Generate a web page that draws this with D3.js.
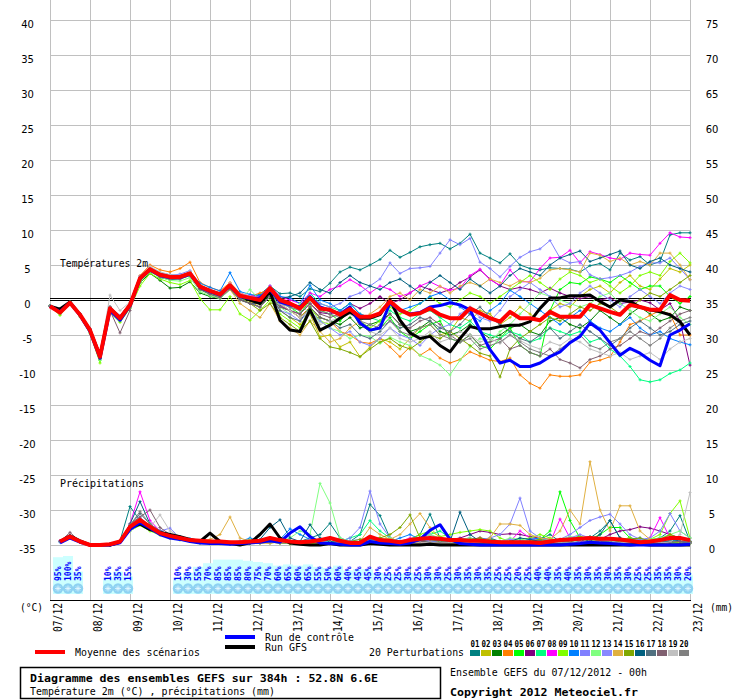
<!DOCTYPE html>
<html><head><meta charset="utf-8">
<script src="https://cdn.jsdelivr.net/npm/d3@7"></script>
<style>body{margin:0;background:#fff}svg{display:block}</style>
</head><body>
<svg id="c" width="740" height="700"></svg>
<script>
// ---------- data ----------
const dateLabels = ["07/12","08/12","09/12","10/12","11/12","12/12","13/12","14/12","15/12","16/12","17/12","18/12","19/12","20/12","21/12","22/12","23/12"];
const leftTicks = [40,35,30,25,20,15,10,5,0,-5,-10,-15,-20,-25,-30,-35];
const rightTicks = [75,70,65,60,55,50,45,40,35,30,25,20,15,10,5,0];
const pertNames = ["01","02","03","04","05","06","07","08","09","10","11","12","13","14","15","16","17","18","19","20"];
const pertColors = ["#008080","#c0c000","#008000","#ff8000","#00ff00","#800080","#00ff80","#ff00ff","#80ff00","#0080ff","#8080ff","#80ff80","#8888ff","#e0b040","#80a800","#006080","#507080","#806070","#c0c0c0","#808080"];
// snow probability (%) for each 6h period, null = none
const snowPct = [95,100,35,null,null,10,35,15,null,null,null,null,
  10,30,55,70,85,85,85,80,75,70,60,65,60,65,55,50,60,40,45,45,
  30,25,25,30,25,30,30,25,30,35,30,35,25,25,20,25,40,40,35,40,35,30,35,30,35,30,25,25,35,35,30,20];

// temperature 2m (°C), 6-hourly, 65 values
const tempMean = [-0.9,-1.8,-0.4,-2.1, -4.3,-8.1,-1.2,-2.6, -0.7,3.1,4.4,3.6, 3.3,3.3,3.8,1.9, 1.3,0.8,2.1,0.6, 0.3,0.0,1.7,0.0, -0.5,-1.2,0.3,-1.2, -1.4,-2.1,-1.3,-2.4, -2.4,-1.9,-0.2,-1.4, -2.1,-1.9,-1.2,-2.1, -2.6,-2.6,-1.2,-1.9, -2.6,-3.1,-1.7,-2.6, -2.6,-2.9,-1.7,-2.4, -2.4,-2.4,-0.7,-1.2, -1.7,-2.1,-0.7,-1.0, -1.4,-1.4,0.7,0.0, -0.1];
const tempControl = [-0.9,-1.7,-0.4,-2.2, -4.5,-8.3,-1.5,-2.9, -0.8,3.0,4.3,3.5, 3.2,3.2,3.7,1.8, 1.2,0.7,2.0,0.5, 0.2,0.3,1.5,-0.3, -0.7,-1.0,0.5,-1.0, -1.5,-2.0,-1.0,-3.3, -4.3,-4.0,-0.4,-1.5, -2.0,-1.8,-1.0,-0.8, -0.4,-0.7,-1.4,-4.3, -7.1,-9.0,-8.6,-9.5, -9.5,-9.0,-8.1,-7.4, -6.1,-5.2,-3.3,-4.3, -6.1,-7.9,-6.9,-7.6, -8.6,-9.4,-5.0,-4.3, -3.4];
const tempGFS = [-0.9,-1.3,-0.3,-2.1, -4.3,-8.0,-1.2,-2.6, -0.7,3.1,4.4,3.6, 3.3,3.3,3.8,1.9, 1.3,0.8,2.1,0.6, 0.0,-0.5,1.2,-2.9, -4.3,-4.5,-1.4,-4.3, -3.6,-2.6,-1.7,-2.6, -2.6,-2.1,0.0,-2.9, -4.7,-5.5,-5.2,-6.5, -7.4,-5.5,-3.8,-4.1, -4.1,-3.8,-3.6,-3.6, -3.1,-1.2,0.3,0.3, 0.6,0.6,0.7,-0.2, -1.0,0.0,-0.2,-1.0, -1.4,-1.7,-2.1,-3.1, -5.0];
const tempP01 = [-0.9,-2.0,-0.4,-2.3, -4.6,-8.4,-1.4,-2.9, -0.9,2.8,4.2,3.2, 2.9,3.0,3.5,1.6, 1.0,0.6,1.8,0.4, 0.5,0.8,2.0,0.9, 1.0,0.5,1.6,1.2, 2.4,4.0,4.7,4.3, 5.0,5.8,7.1,6.1, 6.8,7.6,7.9,8.1, 7.3,8.1,9.4,6.7, 6.0,5.3,6.6,5.0, 4.5,4.3,4.6,4.5, 4.4,4.0,4.9,5.2, 4.3,6.7,5.7,6.2, 5.0,5.5,9.3,9.6, 9.6];
const tempP02 = [-0.9,-1.9,-0.3,-2.2, -4.4,-8.0,-1.0,-2.4, -0.6,3.0,4.6,3.8, 3.4,3.2,4.0,2.2, 1.5,1.0,2.4,0.8, -0.2,-1.0,0.5,-1.5, -2.5,-3.5,-2.0,-5.3, -5.0,-6.7,-6.0,-8.1, -6.7,-5.5,-6.0,-7.0, -5.5,-4.0,-3.5,-5.0, -4.5,-2.5,-3.0,-1.5, -2.0,-3.5,-2.5,-1.0, -2.0,-3.0,-1.5,-0.5, -1.0,0.5,1.5,2.0, 1.0,2.5,3.5,2.0, 1.5,3.0,4.5,4.0, 5.0];
const tempP03 = [-0.8,-1.7,-0.4,-2.0, -4.2,-8.3,-1.3,-2.7, -0.8,2.5,3.8,2.8, 1.7,1.8,2.6,1.0, 0.5,0.2,1.5,0.0, -0.5,-1.0,0.8,-1.0, -1.5,-2.5,-1.0,-2.5, -3.0,-3.5,-2.5,-4.0, -3.5,-3.0,-2.0,-3.5, -4.5,-4.0,-3.0,-4.5, -5.0,-4.5,-3.5,-4.5, -5.5,-5.0,-4.0,-3.5, -4.5,-5.0,-3.0,-2.5, -3.5,-4.0,-3.0,-1.5, -2.5,-3.5,-2.0,-1.0, -2.0,-3.0,-2.5,-1.0, -1.5];
const tempP04 = [-0.9,-1.8,-0.5,-2.2, -4.3,-8.0,-1.0,-2.3, -0.4,3.5,5.0,4.3, 4.0,4.5,5.4,2.5, 1.8,1.3,2.5,1.0, 0.5,1.0,1.5,-0.5, -1.5,-2.5,-1.0,-2.5, -3.0,-4.5,-5.0,-6.0, -6.2,-5.5,-6.7,-8.1, -6.7,-7.9,-7.0,-8.3, -9.0,-8.5,-7.4,-8.0, -8.6,-8.8,-8.3,-10.7, -11.9,-12.6,-10.7,-10.9, -10.9,-10.7,-8.9,-8.6, -8.1,-6.0,-3.5,-3.0, -2.2,-1.5,-2.0,-5.0, -5.0];
const tempP05 = [-0.9,-1.8,-0.3,-2.0, -4.5,-8.6,-1.5,-3.0, -1.0,2.7,4.3,3.5, 3.1,3.4,3.6,1.5, 0.8,0.5,2.0,0.2, 0.0,-0.5,1.2,-0.5, -1.0,-2.0,0.0,-1.5, -2.0,-3.0,-1.5,-3.5, -4.5,-4.0,-2.5,-4.5, -5.5,-4.5,-3.5,-3.0, -5.5,-6.0,-5.0,-6.5, -7.0,-5.5,-4.0,-6.5, -7.5,-8.0,-1.5,1.5, 2.5,2.3,3.3,3.0, 2.5,3.5,2.5,1.5, 2.0,2.0,0.5,-0.5, 0.5];
const tempP06 = [-0.9,-1.8,-0.4,-2.1, -4.4,-8.2,-1.2,-2.8, -0.8,3.0,4.3,3.4, 3.2,3.2,3.6,1.8, 1.2,0.8,2.0,0.5, 0.2,-0.3,1.0,-0.8, -1.5,-2.0,-0.5,-1.8, -2.0,-1.5,-0.5,-1.2, -0.5,0.5,-0.5,0.0, 1.0,2.0,1.5,1.0, 1.5,2.5,3.3,4.3, 3.0,2.0,1.5,1.8, 1.5,1.0,1.7,1.0, 0.5,0.2,0.5,0.0, 0.3,-0.5,-0.3,0.0, -0.4,-1.4,-0.5,-3.0, -9.3];
const tempP07 = [-0.9,-1.7,-0.4,-2.1, -4.3,-8.3,-1.3,-2.6, -0.7,3.2,4.6,3.7, 3.5,3.4,4.0,2.0, 1.4,0.9,2.2,0.7, 0.4,0.2,1.5,0.3, -0.5,-1.0,1.0,-0.5, -1.0,-1.5,-0.5,-2.0, -2.5,-3.0,-1.5,-2.5, -3.0,-2.0,-1.5,-2.5, -3.5,-4.0,-3.0,-4.5, -5.0,-5.5,-4.5,-5.0, -6.0,-5.5,-4.0,-4.5, -5.0,-4.5,-6.0,-5.5, -7.0,-8.0,-9.5,-11.4, -11.7,-11.4,-10.5,-10.0, -9.0];
const tempP08 = [-0.9,-1.8,-0.4,-2.0, -4.2,-8.0,-1.1,-2.5, -0.6,3.2,4.5,3.7, 3.4,3.5,3.9,2.0, 1.5,1.0,2.3,0.9, 0.6,0.5,2.0,0.5, 0.0,-0.5,1.0,0.5, 1.5,2.0,2.9,2.1, 1.0,2.0,1.5,0.5, 1.0,2.0,2.6,1.9, 1.4,1.7,3.5,4.4, 2.9,2.1,4.3,2.6, 2.6,4.5,6.0,6.1, 7.1,5.3,6.9,6.5, 6.0,5.8,6.7,6.5, 6.4,8.1,9.6,9.0, 8.9];
const tempP09 = [-0.9,-2.2,-0.5,-2.4, -4.8,-9.0,-1.8,-3.2, -1.2,2.0,3.8,3.0, 2.5,2.2,2.8,0.2, -1.4,-1.4,0.5,-2.0, -2.9,-1.5,0.0,-2.0, -3.0,-4.0,-1.0,-3.0, -3.5,-2.5,-1.5,-3.0, -4.0,-3.0,-1.0,-2.0, -1.5,-0.5,0.5,-0.5, -1.0,0.0,1.0,0.5, -0.5,0.5,1.5,2.5, 3.5,2.5,1.5,3.0, 4.0,3.5,2.5,3.0, 2.0,1.0,2.0,3.5, 4.0,3.5,5.5,6.7, 5.3];
const tempP10 = [-0.9,-1.8,-0.4,-2.1, -4.3,-8.1,-1.0,-2.4, -0.6,3.3,4.6,3.9, 3.6,3.5,4.0,2.4, 1.8,1.3,3.9,1.2, 0.8,0.6,1.8,0.5, 0.3,-0.5,2.1,0.0, -0.5,-1.5,-0.5,-2.0, -2.5,-2.0,-0.5,-1.5, -1.0,-0.5,0.5,1.0, 0.0,-1.0,-2.0,-3.0, -1.5,-0.5,1.4,0.5, -0.5,-1.5,-2.5,-3.5, -2.5,-1.5,-3.0,-4.0, -4.5,-3.5,-2.5,-4.0, -5.0,-4.5,-5.5,-6.0, -6.4];
const tempP11 = [-0.9,-1.8,-0.3,-2.0, -4.1,-7.8,-1.0,-2.2, -0.5,3.4,4.7,3.9, 3.5,3.7,4.2,2.1, 1.5,1.0,2.2,0.7, 0.5,0.0,1.5,-0.5, -1.0,-1.5,0.5,-0.5, -1.0,-0.5,0.5,1.0, 2.0,3.0,5.3,3.8, 4.5,4.6,4.8,6.7, 8.6,7.9,8.8,5.4, 4.5,3.3,4.8,6.1, 6.9,7.3,8.5,6.0, 5.3,5.5,3.6,3.0, 3.2,3.5,4.0,4.8, 5.3,5.3,6.0,4.5, 2.9];
const tempP12 = [-0.9,-1.9,-0.4,-2.2, -4.5,-8.6,-1.4,-2.9, -1.0,2.6,4.0,3.3, 2.8,2.7,3.2,1.2, 0.6,0.2,1.5,0.0, 1.5,0.0,1.0,-1.0, -2.0,-0.5,-2.0,-3.0, -4.0,-4.5,-5.5,-5.0, -5.2,-6.2,-5.3,-6.0, -6.5,-7.9,-8.5,-9.3, -10.7,-8.6,-6.7,-5.5, -6.0,-4.5,-3.5,-2.0, -0.5,1.0,0.5,0.0, -0.5,-1.0,-0.5,0.5, 1.0,-0.5,-1.5,-2.5, -3.0,-2.0,-1.0,-2.5, -3.5];
const tempP13 = [-0.9,-1.8,-0.4,-2.1, -4.4,-8.2,-1.3,-2.7, -0.8,3.0,4.4,3.5, 3.2,3.1,3.7,1.7, 1.0,0.6,1.9,0.3, -0.5,-1.0,0.5,-1.5, -2.0,-3.0,-1.5,-3.0, -4.0,-5.0,-4.5,-6.0, -6.5,-5.5,-4.0,-5.0, -5.5,-6.5,-5.0,-4.0, -3.5,-2.0,-1.0,-2.5, -3.0,-1.5,0.5,1.5, 2.5,1.5,0.5,-1.0, -0.5,1.0,2.0,1.0, 0.0,-1.0,0.5,1.5, 0.5,-0.5,1.0,2.0, 1.5];
const tempP14 = [-0.9,-1.8,-0.4,-2.1, -4.3,-8.1,-1.1,-2.5, -0.6,3.2,4.5,3.7, 3.4,3.4,3.9,2.0, 1.2,0.4,1.5,-0.5, -1.5,-2.5,-0.5,-3.0, -4.0,-5.0,-3.0,-4.5, -6.0,-5.5,-4.0,-3.0, -2.0,-1.0,0.5,1.0, 0.0,1.5,1.0,2.0, 1.0,2.0,2.5,2.0, 3.0,2.5,2.0,2.8, 2.5,3.1,4.3,4.5, 4.3,4.0,6.7,6.4, 5.5,6.0,5.0,5.5, 5.0,6.7,6.7,5.0, 2.9];
const tempP15 = [-0.9,-1.8,-0.4,-2.1, -4.2,-8.0,-1.2,-2.6, -0.7,3.1,4.4,3.6, 3.3,3.2,3.7,1.8, 1.2,0.7,1.9,0.4, -0.5,-1.5,-0.5,-2.5, -3.5,-4.5,-3.0,-5.5, -6.7,-7.0,-7.5,-8.1, -7.0,-6.0,-5.5,-6.5, -7.0,-6.0,-5.0,-5.5, -4.5,-5.5,-6.5,-7.6, -8.0,-11.0,-7.0,-5.5, -4.5,-3.5,-2.5,-3.0, -2.0,-1.0,-1.5,-0.5, -1.0,-2.0,-1.0,0.0, 1.0,0.5,1.5,2.5, 3.5];
const tempP16 = [-0.9,-1.8,-0.4,-2.1, -4.4,-8.3,-1.3,-2.7, -0.8,3.0,4.3,3.5, 3.2,3.1,3.7,1.7, 1.1,0.7,2.0,0.5, 0.2,0.0,1.5,0.2, 0.5,1.0,2.5,1.5, 1.0,2.5,3.5,2.5, 2.0,1.5,2.5,3.0, 2.0,1.0,2.5,3.5, 2.5,1.5,3.0,2.0, 1.0,2.0,3.5,4.5, 4.0,3.5,5.0,6.0, 6.5,7.0,5.5,6.0, 6.5,7.0,5.0,4.5, 5.5,6.0,5.0,4.5, 4.0];
const tempP17 = [-0.9,-1.8,-0.4,-2.1, -4.3,-8.1,-1.2,-2.6, -0.7,3.1,4.2,3.4, 3.1,3.2,3.6,1.6, 1.0,0.5,1.8,0.1, -0.5,-0.5,1.0,-1.5, -2.5,-3.0,-1.0,-2.5, -3.0,-4.0,-3.5,-5.0, -5.5,-4.5,-3.0,-4.0, -3.5,-2.5,-3.0,-4.0, -4.5,-3.5,-2.0,-1.0, -2.5,-3.5,-4.5,-5.5, -6.0,-5.0,-4.0,-5.5, -4.5,-3.5,-4.5,-5.5, -6.5,-5.5,-4.0,-3.0, -4.0,-5.0,-4.5,-3.5, -3.0];
const tempP18 = [-0.9,-1.8,-0.4,-2.0, -4.1,-7.5,-1.5,-4.7, -1.5,2.8,4.1,3.3, 3.0,3.0,3.5,1.5, 0.8,0.3,1.6,0.0, -0.5,-1.0,0.5,-1.0, -1.5,-2.0,-0.5,-2.0, -2.5,-2.0,-1.0,-3.5, -4.5,-3.5,-2.0,-3.5, -4.0,-3.0,-2.5,-3.5, -5.0,-6.0,-5.0,-6.5, -6.0,-5.5,-7.0,-6.5, -7.5,-8.0,-7.0,-8.5, -9.0,-9.7,-8.5,-8.0, -7.0,-6.5,-5.5,-4.5, -5.0,-4.0,-3.0,-2.0, -1.5];
const tempP19 = [-0.9,-1.8,-0.4,-2.1, -4.2,-7.8,0.7,-1.5, -0.3,3.3,4.8,4.0, 3.6,3.5,4.1,2.1, 1.5,1.0,2.4,0.9, 0.5,0.2,1.8,-0.5, -1.5,-2.5,-1.5,-3.5, -3.0,-2.5,-2.0,-3.0, -4.5,-5.0,-4.0,-5.5, -6.0,-5.5,-4.5,-6.0, -5.5,-4.5,-5.0,-6.0, -5.5,-6.2,-5.0,-5.8, -6.5,-7.0,-6.0,-6.5, -5.5,-6.0,-7.0,-7.5, -8.0,-7.5,-8.5,-8.0, -7.5,-8.5,-7.0,-6.0, -5.5];
const tempP20 = [-0.9,-1.8,-0.4,-2.1, -4.4,-8.4,-1.0,-2.8, -0.9,3.0,4.5,3.7, 3.3,3.3,3.8,1.8, 1.3,0.8,2.0,0.6, 0.3,0.2,1.5,-0.3, -1.0,-1.5,0.2,-1.5, -2.0,-2.5,-1.5,-3.0, -3.5,-4.0,-3.0,-4.5, -5.0,-4.0,-3.5,-5.0, -5.5,-6.0,-5.5,-7.0, -6.5,-6.0,-5.0,-6.0, -7.0,-7.5,-8.0,-7.0, -6.0,-5.0,-6.5,-7.0, -6.0,-5.5,-4.5,-5.5, -6.5,-5.5,-4.0,-3.0, -2.5];

// precipitation (mm / 6h), 64 values from +6h to +384h
const precMean = [0.5,1.2,0.5,0.0, 0.0,0.1,0.5,2.6, 3.6,2.6,1.7,1.3, 1.0,0.7,0.6,0.5, 0.5,0.4,0.4,0.5, 0.6,1.0,0.7,0.5, 0.4,0.5,0.7,1.0, 0.6,0.3,0.3,1.2, 0.7,0.6,0.4,0.7, 0.9,1.0,0.9,0.7, 0.7,0.6,0.6,0.5, 0.4,0.4,0.4,0.4, 0.3,0.5,0.7,0.8, 0.9,1.0,0.9,0.9, 0.8,0.6,0.4,0.5, 0.7,1.0,1.0,0.7];
const precControl = [0.3,1.0,0.4,0.0, 0.0,0.0,0.3,2.2, 3.2,2.4,1.5,1.0, 0.8,0.5,0.3,0.2, 0.2,0.1,0.2,0.3, 0.4,0.6,0.4,1.7, 2.6,1.2,0.3,0.2, 0.1,0.0,0.0,0.5, 0.3,0.2,0.1,0.3, 0.8,2.1,2.9,0.8, 0.2,0.1,0.0,0.0, 0.0,0.0,0.0,0.0, 0.0,0.0,0.0,0.1, 0.2,0.4,0.3,0.2, 0.1,0.0,0.0,0.0, 0.0,0.0,0.0,0.1];
const precGFS = [0.5,1.3,0.6,0.0, 0.0,0.0,0.4,2.4, 3.0,2.2,1.8,1.5, 1.2,0.8,0.5,1.7, 0.5,0.2,0.0,0.3, 1.5,3.0,1.0,0.3, 0.1,0.0,0.0,0.2, 0.0,0.0,0.0,0.2, 0.1,0.0,0.0,0.0, 0.0,0.1,0.0,0.0, 0.0,0.0,0.0,0.0, 0.0,0.0,0.0,0.0, 0.0,0.0,0.0,0.0, 0.0,0.0,0.0,0.0, 0.0,0.0,0.1,0.0, 0.0,0.0,0.0,0.0];
const precP01 = [0.6,1.3,0.5,0.0, 0.0,0.1,0.6,5.5, 3.5,2.5,1.5,1.0, 0.8,0.5,0.3,0.2, 0.3,0.2,0.1,0.3, 0.5,0.8,0.5,0.3, 0.5,1.0,1.5,3.1, 1.0,0.5,1.5,5.8, 4.2,1.0,0.5,0.8, 1.5,4.4,1.0,0.5, 0.3,0.2,0.5,1.0, 0.5,0.3,0.2,0.5, 0.8,1.5,0.5,0.3, 0.5,1.0,2.0,3.5, 1.0,0.5,0.3,0.5, 1.0,2.0,4.2,0.5];
const precP02 = [0.5,1.2,0.5,0.0, 0.0,0.1,0.5,2.4, 3.3,2.4,1.6,1.2, 0.9,0.6,0.5,0.3, 0.3,0.3,0.4,0.3, 0.3,0.4,0.3,0.2, 0.3,0.2,0.3,0.4, 0.3,0.2,0.5,0.8, 0.5,0.3,0.5,0.8, 0.5,0.3,0.2,0.3, 0.5,0.3,0.2,0.3, 0.5,0.8,0.5,0.3, 0.2,0.3,0.5,0.3, 0.2,0.3,0.5,0.8, 0.5,0.3,0.2,0.5, 0.8,0.5,0.3,0.2];
const precP03 = [0.5,1.1,0.5,0.0, 0.0,0.0,0.5,2.2, 3.0,2.3,1.7,1.3, 1.0,0.7,0.5,0.4, 0.3,0.3,0.4,0.5, 0.5,0.6,0.4,0.3, 0.4,0.5,0.4,0.3, 0.3,0.4,0.5,0.6, 0.5,0.4,0.3,0.4, 0.5,0.6,0.5,0.4, 0.5,0.8,1.0,0.8, 0.5,0.4,0.3,0.5, 0.6,0.5,0.8,1.0, 1.2,0.8,0.5,0.6, 0.8,1.0,0.8,0.5, 0.4,0.6,0.8,0.5];
const precP04 = [0.5,1.2,0.5,0.0, 0.0,0.1,0.5,2.6, 3.5,2.5,1.6,1.2, 0.8,0.6,0.4,0.3, 0.3,0.2,0.3,0.4, 0.3,0.4,0.3,0.2, 0.3,0.4,0.3,0.2, 0.2,0.3,0.4,0.3, 0.2,0.3,0.4,0.5, 0.3,0.2,0.3,0.2, 0.3,0.2,0.3,0.4, 0.3,0.2,0.3,0.2, 0.3,0.4,0.3,0.2, 0.3,0.4,0.3,0.2, 0.3,0.2,0.3,0.4, 0.5,0.8,0.5,0.3];
const precP05 = [0.5,1.2,0.5,0.0, 0.0,0.1,0.5,2.2, 3.2,2.4,1.6,1.2, 0.8,0.5,0.4,0.3, 0.3,0.2,0.3,0.2, 0.3,0.5,0.3,0.2, 0.3,0.5,0.8,0.5, 0.3,0.2,0.3,0.5, 0.8,0.5,0.3,0.5, 0.8,1.0,0.5,0.3, 0.5,0.8,0.5,0.3, 0.2,0.5,0.8,0.5, 0.8,2.0,7.6,3.5, 1.0,0.8,1.5,2.5, 2.5,1.0,0.5,0.8, 0.5,0.3,0.5,0.3];
const precP06 = [0.5,1.2,0.5,0.0, 0.0,0.0,0.5,2.4, 3.4,2.5,1.7,1.2, 0.9,0.6,0.4,0.3, 0.3,0.2,0.3,0.4, 0.4,0.5,0.4,0.3, 0.3,0.4,0.3,0.2, 0.2,0.3,0.4,0.3, 0.4,0.3,0.5,0.8, 0.5,0.3,0.5,0.8, 1.0,1.5,2.0,1.8, 1.5,1.6,1.5,1.2, 1.0,0.8,0.5,0.8, 1.0,1.2,0.8,1.5, 2.0,2.2,2.6,2.4, 2.0,1.5,1.0,0.5];
const precP07 = [0.5,1.2,0.5,0.0, 0.0,0.1,0.5,2.6, 3.6,2.6,1.6,1.2, 0.9,0.6,0.5,0.3, 0.3,0.2,0.3,0.5, 0.5,0.6,0.5,0.3, 0.5,0.8,0.6,0.4, 0.5,1.0,1.5,3.5, 2.0,1.0,0.5,0.8, 1.0,1.5,2.0,1.0, 0.5,0.3,0.5,0.8, 0.5,0.3,0.5,0.8, 1.0,0.5,0.3,0.5, 0.8,1.2,1.0,0.8, 0.5,0.3,0.5,0.8, 1.0,0.8,0.5,0.3];
const precP08 = [0.6,1.2,0.5,0.0, 0.0,0.1,0.5,3.0, 7.6,3.5,2.0,1.2, 0.8,0.5,0.4,0.3, 0.2,0.2,0.3,0.5, 0.5,0.6,0.4,0.3, 0.3,0.5,0.4,0.3, 0.3,0.2,0.5,0.8, 0.5,0.3,0.5,1.0, 0.8,1.5,0.8,0.5, 0.5,0.8,1.0,0.5, 0.3,0.5,2.0,1.0, 0.5,0.3,3.7,1.0, 0.5,0.3,0.5,0.8, 0.5,0.3,0.5,1.0, 3.9,1.0,0.5,0.3];
const precP09 = [0.5,1.1,0.4,0.0, 0.0,0.0,0.4,2.0, 2.8,2.0,1.4,1.0, 0.7,0.5,0.3,0.2, 0.2,0.1,0.2,0.3, 0.3,0.4,0.3,0.2, 0.2,0.3,0.4,0.3, 0.2,0.3,0.5,0.8, 1.0,0.5,0.3,0.8, 1.5,2.0,1.2,1.5, 1.8,2.0,2.2,2.0, 1.0,0.5,0.8,1.0, 1.5,1.0,0.5,0.8, 1.2,1.0,0.8,0.5, 0.8,1.0,0.5,0.8, 1.5,4.5,6.3,1.0];
const precP10 = [0.4,1.0,0.4,0.0, 0.0,0.1,0.4,2.5, 3.8,2.5,1.8,1.5, 1.2,0.9,0.6,0.4, 0.3,0.2,0.5,1.0, 0.5,0.3,0.8,2.3, 1.5,0.8,0.5,0.3, 0.2,0.3,0.5,0.3, 0.2,0.5,1.0,1.5, 0.8,0.5,0.3,0.5, 0.8,1.0,0.5,0.3, 0.2,0.3,0.5,0.8, 1.0,0.5,0.3,0.5, 0.8,1.0,0.5,0.3, 0.5,0.8,1.0,0.5, 0.3,0.5,0.8,0.5];
const precP11 = [0.5,1.3,0.5,0.0, 0.0,0.2,0.6,2.8, 4.0,2.6,2.0,2.4, 1.0,0.6,0.4,0.3, 0.5,0.4,0.6,0.5, 0.4,0.6,0.5,0.3, 0.5,0.8,0.5,0.3, 0.5,1.0,2.5,7.7, 3.0,1.0,0.5,0.8, 1.0,0.5,0.8,1.0, 0.5,0.3,0.8,1.0, 1.5,3.0,6.7,2.0, 1.0,0.5,0.8,1.5, 2.5,3.5,4.0,4.4, 3.0,1.5,0.8,1.0, 2.0,4.5,2.0,1.0];
const precP12 = [0.5,1.2,0.5,0.0, 0.0,0.0,0.5,2.0, 3.0,2.2,1.5,1.0, 0.8,0.5,0.3,0.2, 0.2,0.3,0.5,0.8, 0.5,0.3,0.5,1.0, 2.0,1.5,8.8,6.0, 1.0,0.5,0.3,0.5, 0.8,1.0,0.5,0.8, 1.0,1.5,1.0,0.5, 0.8,1.0,0.5,0.3, 0.5,1.0,0.8,0.5, 0.3,0.5,0.8,1.2, 1.0,0.5,0.8,1.0, 0.5,0.3,0.5,0.8, 1.0,1.5,2.0,1.0];
const precP13 = [0.5,1.2,0.5,0.0, 0.0,0.1,0.5,2.5, 3.4,2.5,1.7,1.2, 0.9,0.6,0.5,0.4, 0.3,0.3,0.4,0.5, 0.5,0.6,0.5,0.4, 0.4,0.5,0.5,0.4, 0.4,0.6,0.8,0.6, 0.5,0.4,0.5,0.6, 0.8,0.6,0.5,0.4, 0.5,0.6,0.5,0.4, 0.5,0.8,0.6,0.5, 0.5,0.6,0.8,1.0, 1.5,1.0,0.8,0.6, 0.5,0.6,0.8,0.6, 0.5,0.8,1.0,0.6];
const precP14 = [0.5,1.1,0.5,0.0, 0.0,0.1,0.5,2.5, 3.5,2.5,1.5,1.0, 0.8,0.6,0.5,0.8, 1.5,4.0,1.0,0.5, 0.3,0.2,0.5,0.3, 0.2,0.3,0.5,0.3, 0.2,0.3,0.5,2.5, 1.5,0.8,1.5,3.0, 4.5,2.5,1.0,0.5, 0.3,0.2,0.5,1.0, 3.0,3.0,2.8,1.5, 1.0,0.8,2.0,5.0, 3.0,11.9,5.0,2.0, 5.6,5.6,2.0,0.8, 0.5,1.5,0.8,0.5];
const precP15 = [0.5,1.2,0.5,0.0, 0.0,0.1,0.5,2.3, 3.0,2.3,1.5,1.2, 0.9,0.6,0.4,0.3, 0.2,0.2,0.3,0.4, 0.5,0.4,0.3,0.2, 0.3,0.4,0.3,0.2, 0.3,0.5,0.8,1.0, 1.0,1.5,2.5,4.3, 1.0,0.8,0.5,0.3, 0.5,0.8,1.0,0.5, 0.3,0.5,0.3,0.5, 0.8,0.5,0.3,0.5, 0.8,1.0,0.5,0.3, 0.5,0.8,1.0,0.5, 0.8,1.5,1.0,0.5];
const precP16 = [0.5,1.2,0.5,0.0, 0.0,0.0,0.4,3.0, 6.2,3.0,2.0,1.5, 1.0,0.8,0.5,0.3, 0.3,0.2,0.3,0.5, 0.8,2.5,3.6,1.0, 0.5,2.9,1.0,0.5, 0.3,0.2,0.5,1.0, 0.8,0.5,0.3,0.5, 0.5,1.0,0.8,0.5, 4.7,1.5,0.5,0.3, 0.2,0.5,1.0,0.8, 0.5,0.3,0.5,0.8, 1.0,0.5,1.5,3.5, 1.0,0.5,0.3,0.5, 0.8,1.0,0.5,0.3];
const precP17 = [0.5,1.3,0.5,0.0, 0.0,0.1,0.5,2.8, 4.5,3.0,1.8,1.3, 1.0,0.7,0.5,0.4, 0.3,0.3,0.4,0.5, 0.5,0.8,0.6,0.4, 0.3,0.4,0.3,0.3, 0.4,0.3,0.5,0.8, 0.6,0.4,0.3,0.5, 0.6,0.8,0.6,0.5, 0.4,0.3,0.5,0.4, 0.3,0.4,0.5,0.3, 0.4,0.5,0.4,0.3, 0.4,0.5,0.6,0.4, 0.3,0.5,0.4,0.3, 0.4,0.6,0.5,0.4];
const precP18 = [0.5,1.8,0.5,0.0, 0.0,0.1,0.5,3.0, 4.0,5.0,2.5,1.5, 1.0,0.7,0.5,0.4, 0.3,0.3,0.4,0.5, 0.5,0.6,0.5,0.4, 0.3,0.4,0.3,0.3, 0.4,0.3,0.4,0.5, 0.4,0.3,0.5,0.6, 0.5,0.4,0.3,0.4, 0.5,0.4,0.3,0.4, 0.5,0.4,0.3,0.4, 0.5,0.6,0.5,0.4, 0.3,0.4,0.5,0.4, 0.3,0.4,0.5,0.4, 0.3,0.4,0.5,0.4];
const precP19 = [0.5,1.2,0.5,0.0, 0.0,0.1,0.5,2.0, 3.0,2.5,4.3,2.0, 1.2,0.8,0.5,0.4, 0.3,0.3,0.4,0.3, 0.3,0.4,0.3,0.3, 0.3,0.4,0.3,0.3, 0.3,0.4,0.3,0.3, 0.3,0.4,0.3,0.3, 0.3,0.4,0.3,0.3, 0.3,0.4,0.3,0.3, 0.3,0.4,0.3,0.3, 0.3,0.4,0.3,0.3, 0.3,0.4,0.3,0.3, 0.3,0.4,0.3,0.3, 0.3,0.4,1.5,7.5];
const precP20 = [0.5,1.3,0.5,0.0, 0.0,0.1,0.5,2.8, 4.8,3.0,2.0,1.5, 1.0,0.7,0.5,0.4, 0.3,0.3,0.4,0.3, 0.3,0.4,0.3,0.3, 0.3,0.4,0.3,0.3, 0.3,0.4,0.3,0.3, 0.3,0.2,0.3,0.3, 0.2,0.3,0.3,0.2, 0.3,0.2,0.3,0.3, 0.2,0.3,0.2,0.3, 0.2,0.3,0.2,0.3, 0.2,0.3,0.2,0.3, 0.2,0.3,0.2,0.3, 0.2,0.3,0.2,0.3];

const pertTemps = [tempP01,tempP02,tempP03,tempP04,tempP05,tempP06,tempP07,tempP08,tempP09,tempP10,tempP11,tempP12,tempP13,tempP14,tempP15,tempP16,tempP17,tempP18,tempP19,tempP20];
const pertPrecs = [precP01,precP02,precP03,precP04,precP05,precP06,precP07,precP08,precP09,precP10,precP11,precP12,precP13,precP14,precP15,precP16,precP17,precP18,precP19,precP20];

// ---------- drawing ----------
const svg = d3.select("#c");
const x = d3.scaleLinear().domain([0, 384]).range([50, 690]);
const yT = d3.scaleLinear().domain([-35, 40]).range([545, 20]);
const yP = d3.scaleLinear().domain([0, 75]).range([545, 20]);
const MONO = "'DejaVu Sans Mono', 'Liberation Mono', monospace";
const GRID = "#c0c0c0";

function txt(g, px, py, s, o = {}) {
  const t = g.append("text").attr("x", px).attr("y", py).text(s)
    .attr("font-family", o.family || MONO)
    .attr("font-size", o.size || 10)
    .attr("font-weight", o.bold ? "bold" : "normal")
    .attr("fill", o.fill || "#000")
    .attr("text-anchor", o.anchor || "start");
  if (o.w) t.attr("textLength", o.w).attr("lengthAdjust", "spacingAndGlyphs");
  return t;
}

// grid: vertical day lines
const dayHours = dateLabels.map((d, i) => i * 24);
svg.append("g").attr("shape-rendering", "crispEdges").selectAll("line").data(dayHours).join("line")
  .attr("x1", d => x(d) + 0.5).attr("x2", d => x(d) + 0.5)
  .attr("y1", 0).attr("y2", 600)
  .attr("stroke", GRID).attr("stroke-width", 1);
// horizontal lines
svg.append("g").attr("shape-rendering", "crispEdges").selectAll("line").data(leftTicks).join("line")
  .attr("x1", 50).attr("x2", 691)
  .attr("y1", d => yT(d) + 0.5).attr("y2", d => yT(d) + 0.5)
  .attr("stroke", GRID).attr("stroke-width", 1);

// axis labels via d3 axes
const axL = svg.append("g").attr("transform", "translate(27.5,0)")
  .call(d3.axisLeft(yT).tickValues(leftTicks).tickSize(0).tickPadding(0).tickFormat(d => String(d)));
axL.select(".domain").remove();
axL.selectAll("text").attr("text-anchor", "middle").attr("dy", "0.75em")
  .attr("font-family", "'DejaVu Sans', sans-serif").attr("font-size", 10).attr("fill", "#000");
const axR = svg.append("g").attr("transform", "translate(712,0)")
  .call(d3.axisRight(yP).tickValues(rightTicks).tickSize(0).tickPadding(0).tickFormat(d => String(d)));
axR.select(".domain").remove();
axR.selectAll("text").attr("text-anchor", "middle").attr("dy", "0.75em")
  .attr("font-family", "'DejaVu Sans', sans-serif").attr("font-size", 10).attr("fill", "#000");

// 0°C double line
[yT(0) - 1.5, yT(0) + 0.5].forEach(yy => {
  svg.append("line").attr("x1", 50).attr("x2", 691).attr("y1", yy).attr("y2", yy)
    .attr("stroke", "#000").attr("stroke-width", 1).attr("shape-rendering", "crispEdges");
});

// section titles
txt(svg, 60, 267, "Températures 2m", { w: 88 });
txt(svg, 60, 487, "Précipitations", { w: 84 });

// lines
const lineT = d3.line().x((d, i) => x(i * 6)).y(d => yT(d));
const lineP = d3.line().x((d, i) => x((i + 1) * 6)).y(d => yP(d));
const gData = svg.append("g");

function drawPert(arr, col, gen, xf, yf) {
  gData.append("path").attr("d", gen(arr)).attr("fill", "none")
    .attr("stroke", col).attr("stroke-width", 1);
  const m = arr.map((d, i) => `M${xf(i) - 1.5},${yf(d)}h3M${xf(i)},${yf(d) - 1.5}v3`).join("");
  gData.append("path").attr("d", m).attr("stroke", col).attr("stroke-width", 1).attr("fill", "none");
}
pertTemps.forEach((arr, k) => drawPert(arr, pertColors[k], lineT, i => x(i * 6), yT));
pertPrecs.forEach((arr, k) => drawPert(arr, pertColors[k], lineP, i => x((i + 1) * 6), yP));

function drawMain(tArr, pArr, col, w) {
  [[tArr, lineT], [pArr, lineP]].forEach(([a, gen]) => {
    gData.append("path").attr("d", gen(a)).attr("fill", "none")
      .attr("stroke", col).attr("stroke-width", w).attr("stroke-linejoin", "round");
  });
}
drawMain(tempGFS, precGFS, "#000000", 3);
drawMain(tempControl, precControl, "#0000ff", 3);
drawMain(tempMean, precMean, "#ff0000", 4);

// snow probability boxes
const snowIdx = snowPct.map((p, i) => ({ p, i })).filter(d => d.p !== null);
const gSnow = svg.append("g");
gSnow.selectAll("rect").data(snowIdx).join("rect")
  .attr("x", d => x(d.i * 6) + 3).attr("width", 10)
  .attr("y", d => 580 - 0.24 * d.p).attr("height", d => 594 - (580 - 0.24 * d.p))
  .attr("fill", "#ccffff");
gSnow.selectAll("circle.f").data(snowIdx).join("circle").attr("class", "f")
  .attr("cx", d => x(d.i * 6) + 8).attr("cy", 588.5).attr("r", 5.2)
  .attr("fill", "#8ed2f2");
gSnow.selectAll("path.s").data(snowIdx).join("path").attr("class", "s")
  .attr("d", d => { const cx = x(d.i * 6) + 8, cy = 588.5;
    return `M${cx - 3},${cy}h6M${cx},${cy - 3}v6M${cx - 2},${cy - 2}l4,4M${cx + 2},${cy - 2}l-4,4`; })
  .attr("stroke", "#e4f8ff").attr("stroke-width", 0.8).attr("fill", "none");
gSnow.selectAll("text").data(snowIdx).join("text")
  .attr("transform", d => `translate(${x(d.i * 6) + 10.5},581) rotate(-90)`)
  .attr("font-family", MONO).attr("font-size", 8).attr("font-weight", "bold")
  .attr("fill", "#0000ff").text(d => d.p + "%");

// x axis
svg.append("line").attr("x1", 50).attr("x2", 691).attr("y1", 600.5).attr("y2", 600.5)
  .attr("stroke", "#000").attr("stroke-width", 1).attr("shape-rendering", "crispEdges");
svg.append("g").selectAll("text").data(dateLabels).join("text")
  .attr("transform", (d, i) => `translate(${x(i * 24) + 11.5},603) rotate(-90)`)
  .attr("text-anchor", "end").attr("font-family", MONO).attr("font-size", 12)
  .attr("textLength", 29).attr("lengthAdjust", "spacingAndGlyphs")
  .text(d => d);
txt(svg, 20, 611, "(°C)", { w: 23 });
txt(svg, 710, 611, "(mm)", { w: 23 });

// legend
const leg = svg.append("g");
leg.append("line").attr("x1", 35).attr("x2", 65).attr("y1", 652).attr("y2", 652).attr("stroke", "#ff0000").attr("stroke-width", 4);
txt(leg, 75, 656, "Moyenne des scénarios", { w: 125 });
leg.append("line").attr("x1", 225).attr("x2", 255).attr("y1", 637).attr("y2", 637).attr("stroke", "#0000ff").attr("stroke-width", 4);
txt(leg, 265, 641, "Run de contrôle", { w: 89 });
leg.append("line").attr("x1", 225).attr("x2", 255).attr("y1", 647).attr("y2", 647).attr("stroke", "#000").attr("stroke-width", 4);
txt(leg, 265, 651, "Run GFS", { w: 42 });
txt(leg, 369, 656, "20 Perturbations", { w: 95 });
pertColors.forEach((c, k) => {
  leg.append("rect").attr("x", 470 + k * 11).attr("y", 650).attr("width", 10).attr("height", 6).attr("fill", c);
  txt(leg, 475 + k * 11, 646.5, pertNames[k], { size: 8, w: 9, anchor: "middle", bold: true });
});

// footer
svg.append("rect").attr("x", 20.5).attr("y", 667.5).attr("width", 420).attr("height", 31)
  .attr("fill", "none").attr("stroke", "#000").attr("stroke-width", 1.5);
txt(svg, 30, 682, "Diagramme des ensembles GEFS sur 384h : 52.8N 6.6E", { bold: true, size: 11, w: 348 });
txt(svg, 30, 695, "Température 2m (°C) , précipitations (mm)", { w: 245 });
txt(svg, 450, 676, "Ensemble GEFS du 07/12/2012 - 00h", { w: 197 });
txt(svg, 450, 696, "Copyright 2012 Meteociel.fr", { bold: true, size: 11, w: 188 });
</script>
</body></html>
